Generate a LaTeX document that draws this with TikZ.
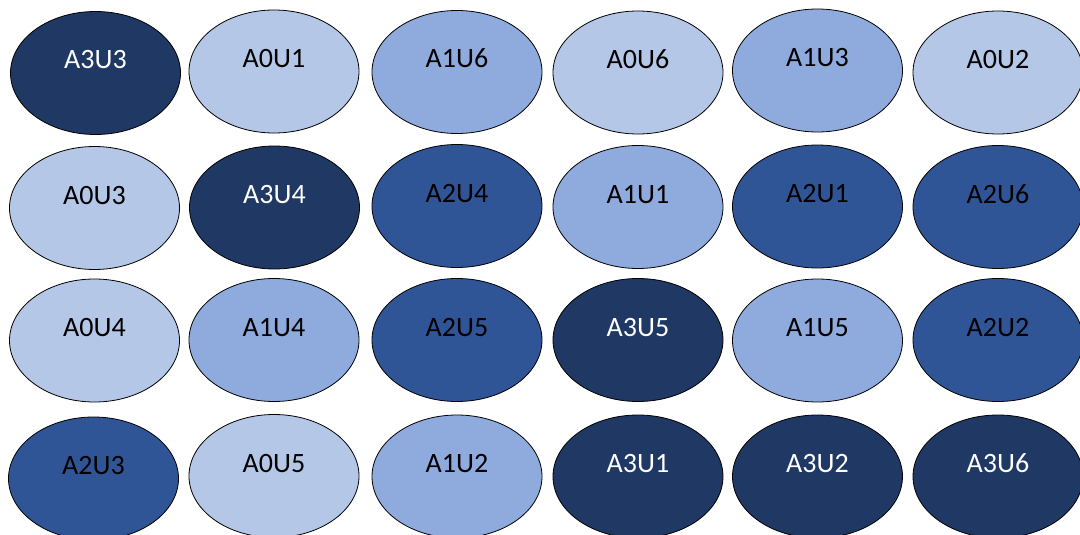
\documentclass[tikz,border=0pt]{standalone}
\usepackage{fontspec}
\setmainfont{Carlito}
\usetikzlibrary{shapes.geometric}
\definecolor{tintA}{HTML}{B4C7E7}
\definecolor{tintB}{HTML}{8FAADC}
\definecolor{shadeC}{HTML}{2F5597}
\definecolor{shadeD}{HTML}{203864}
\tikzset{
  cell/.style={ellipse, draw=black, line width=0.8pt, inner sep=0pt,
    minimum width=170pt, minimum height=123pt,
    text height=2pt, text depth=10pt,
    font=\fontsize{28}{28}\selectfont},
  a0/.style={cell, fill=tintA, text=black},
  a1/.style={cell, fill=tintB, text=black},
  a2/.style={cell, fill=shadeC, text=black},
  a3/.style={cell, fill=shadeD, text=white},
}
\begin{document}
\begin{tikzpicture}[x=1pt, y=-1pt]
  \clip (0,0) rectangle (1080,535);
  \useasboundingbox (0,0) rectangle (1080,535);
  % row 1
  \node[a3] (n11) at (95.5,73)   {A3U3};
  \node[a0] (n12) at (274,71.5)  {A0U1};
  \node[a1] (n13) at (457,72)    {A1U6};
  \node[a0] (n14) at (638,72.5)  {A0U6};
  \node[a1] (n15) at (817.5,70.5){A1U3};
  \node[a0] (n16) at (998,72.5)  {A0U2};
  % row 2
  \node[a0] (n21) at (94.5,208)  {A0U3};
  \node[a3] (n22) at (274.5,207.5){A3U4};
  \node[a2] (n23) at (457,206)   {A2U4};
  \node[a1] (n24) at (638,207)   {A1U1};
  \node[a2] (n25) at (817.5,206.5){A2U1};
  \node[a2] (n26) at (998,207)   {A2U6};
  % row 3
  \node[a0] (n31) at (94.5,340.5){A0U4};
  \node[a1] (n32) at (274,340)   {A1U4};
  \node[a2] (n33) at (457,340)   {A2U5};
  \node[a3] (n34) at (638,340)   {A3U5};
  \node[a1] (n35) at (817.5,340.5){A1U5};
  \node[a2] (n36) at (998,340)   {A2U2};
  % row 4
  \node[a2] (n41) at (93.5,478.5){A2U3};
  \node[a0] (n42) at (274,476)   {A0U5};
  \node[a1] (n43) at (457,476.5) {A1U2};
  \node[a3] (n44) at (638,476.5) {A3U1};
  \node[a3] (n45) at (817.5,476.5){A3U2};
  \node[a3] (n46) at (998,476.5) {A3U6};
\end{tikzpicture}
\end{document}
